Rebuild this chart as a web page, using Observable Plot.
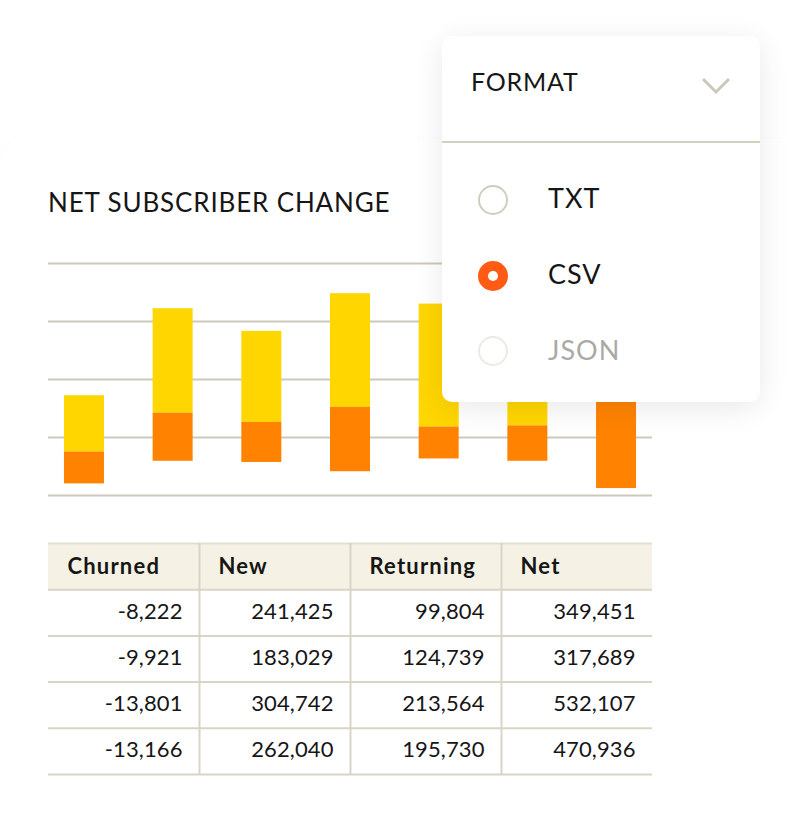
<!DOCTYPE html>
<html>
<head>
<meta charset="utf-8">
<script src="https://cdn.jsdelivr.net/npm/d3@7"></script>
<script src="https://cdn.jsdelivr.net/npm/@observablehq/plot@0.6"></script>
<style>
  html, body { margin: 0; padding: 0; background: #fff; }
  body { width: 804px; height: 822px; position: relative; overflow: hidden; font-family: Lato, "Open Sans", sans-serif; color: #161616; }
  .abs { position: absolute; }
  #card { left: 0; top: 138px; width: 830px; height: 700px; border-radius: 24px; box-shadow: 0 0 3px rgba(0,0,0,0.025); background: #fff; }
  #title { left: 48px; top: 189px; font-size: 26px; line-height: 26px; letter-spacing: 0.85px; white-space: nowrap; }
  #popup { left: 442px; top: 36px; width: 318px; height: 366px; border-radius: 10px; background: #fff; box-shadow: 0 6px 30px rgba(0,0,0,0.09); z-index: 5; }
  #popup .lbl { position: absolute; line-height: 1; white-space: nowrap; }
  .radio { position: absolute; width: 26px; height: 26px; border-radius: 50%; box-sizing: border-box; }
</style>
</head>
<body>
<div id="card" class="abs"></div>
<div id="title" class="abs">NET SUBSCRIBER CHANGE</div>
<div id="chart" class="abs" style="left:0;top:250px;"></div>
<div id="table" class="abs" style="left:0;top:534px;"></div>
<div id="popup" class="abs"></div>
<script>
// ---- bar chart values (chart units; gridlines every 100) ----
const periods = ["P1", "P2", "P3", "P4", "P5", "P6", "P7"];
const orangeLow  = [20, 59, 57, 41, 63, 59, 12];
const orangeHigh = [75, 142, 126, 152, 118, 120, 240];
const yellowHigh = [172, 322, 283, 348, 330, 300, 330];
const gridTicks  = [0, 100, 200, 300, 400];

// ---- table values ----
const columns   = ["Churned", "New", "Returning", "Net"];
const churned   = [-8222, -9921, -13801, -13166];
const newSubs   = [241425, 183029, 304742, 262040];
const returning = [99804, 124739, 213564, 195730];
const net       = [349451, 317689, 532107, 470936];

// ---- format menu ----
const formats = ["TXT", "CSV", "JSON"];
const selectedFormat = "CSV";
const disabledFormat = "JSON";

const YELLOW = "#FFD600", ORANGE = "#FF8300", GRID = "#cdc9b9";

const bars = periods.map((p, i) => ({p, lo: orangeLow[i], mid: orangeHigh[i], hi: yellowHigh[i]}));

const chart = Plot.plot({
  width: 700, height: 260,
  marginLeft: 48, marginRight: 48, marginTop: 13, marginBottom: 15,
  x: {type: "band", domain: periods, paddingInner: 0.549, paddingOuter: 0.18, round: false, axis: null},
  y: {domain: [0, 400], axis: null},
  marks: [
    Plot.ruleY(gridTicks, {stroke: GRID, strokeWidth: 2}),
    Plot.barY(bars, {x: "p", y1: "mid", y2: "hi", fill: YELLOW}),
    Plot.barY(bars, {x: "p", y1: "lo", y2: "mid", fill: ORANGE})
  ]
});
document.getElementById("chart").appendChild(chart);

// ---- table drawn with Plot ----
const colVals = [churned, newSubs, returning, net];
const cells = [];
for (let r = 0; r < churned.length; r++)
  for (let c = 0; c < columns.length; c++)
    cells.push({c, r, v: colVals[c][r].toLocaleString("en-US")});
const heads = columns.map((name, i) => ({name, i}));

const table = Plot.plot({
  width: 700, height: 250,
  marginLeft: 48, marginRight: 48, marginTop: 9, marginBottom: 10,
  x: {type: "linear", domain: [0, 4], axis: null},
  y: {type: "linear", domain: [0, 5], reverse: true, axis: null},
  style: {fontFamily: "Lato, 'Open Sans', sans-serif", color: "#161616"},
  marks: [
    Plot.rect(heads, {x1: d => d.i, x2: d => d.i + 1, y1: 0, y2: 1, fill: "#f5f2e5"}),
    Plot.ruleY([0], {stroke: "#e2dfd3", strokeWidth: 2}),
    Plot.ruleY([1, 2, 3, 4, 5], {stroke: "#d8d4c6", strokeWidth: 2}),
    Plot.ruleX([1, 2, 3], {y1: 0, y2: 5, stroke: "#d8d4c6", strokeWidth: 2}),
    Plot.text(heads, {x: d => d.i, y: 0.5, text: "name", textAnchor: "start", dx: 19, fontSize: 22, fontWeight: 700, fill: "#161616", className: "hd"}),
    Plot.text(cells, {x: d => d.c + 1, y: d => d.r + 1.5, text: "v", textAnchor: "end", dx: -17, dy: -1, fontSize: 22, fill: "#161616", className: "vl"})
  ]
});
table.querySelectorAll("g.hd text").forEach(t => t.setAttribute("letter-spacing", "1.2"));
table.querySelectorAll("g.vl text").forEach(t => t.setAttribute("letter-spacing", "0.1"));
document.getElementById("table").appendChild(table);

// ---- popup menu ----
const pop = document.getElementById("popup");
pop.innerHTML = `
  <div class="lbl" style="left:29px;top:33px;font-size:25px;letter-spacing:0.8px;">FORMAT</div>
  <svg style="position:absolute;left:255px;top:38px" width="40" height="24">
    <polyline points="6,5 19,18 32,5" fill="none" stroke="#cdc9b9" stroke-width="3"/>
  </svg>
  <div style="position:absolute;left:0;top:105px;width:318px;height:2px;background:#d3cfc1"></div>`;
const rowTops = [148, 224, 300];
const radioCy = [164, 240, 315];
formats.forEach((f, i) => {
  const sel = f === selectedFormat, dis = f === disabledFormat;
  const r = document.createElement("div");
  r.className = "radio";
  r.style.left = (51 - 15) + "px";
  r.style.top = (radioCy[i] - 15) + "px";
  r.style.width = r.style.height = "30px";
  if (sel) { r.style.background = "#FF5B14"; r.innerHTML = '<div style="position:absolute;left:10px;top:10px;width:10px;height:10px;border-radius:50%;background:#fff"></div>'; }
  else r.style.border = "2px solid " + (dis ? "#ebeae5" : "#d0ccbf");
  pop.appendChild(r);
  const t = document.createElement("div");
  t.className = "lbl";
  t.style.left = "106px"; t.style.top = rowTops[i] + "px";
  t.style.fontSize = "27px"; t.style.letterSpacing = "1px";
  t.style.color = dis ? "#a9a9a6" : "#161616";
  t.textContent = f;
  pop.appendChild(t);
});
</script>
</body>
</html>
